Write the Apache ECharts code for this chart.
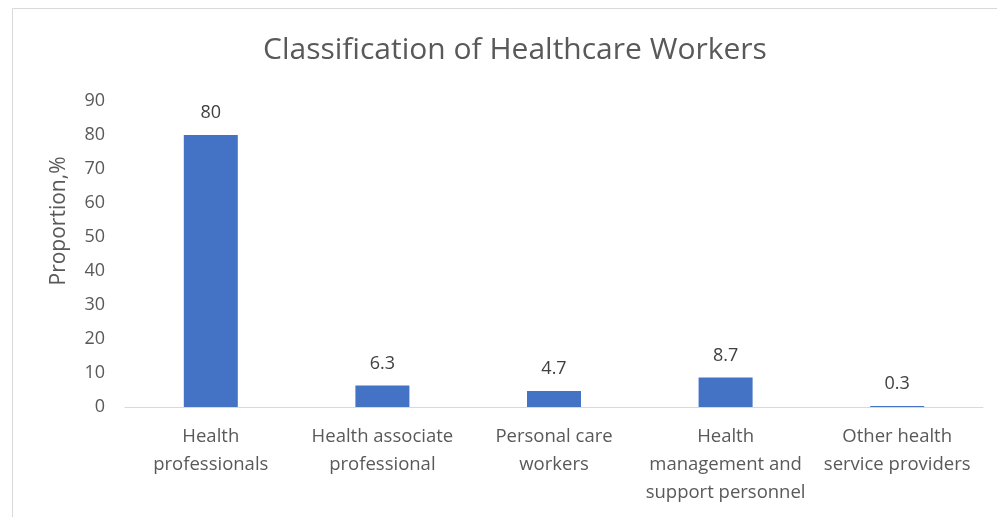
<!DOCTYPE html>
<html>
<head>
<meta charset="utf-8">
<title>Classification of Healthcare Workers</title>
<script src="https://cdn.jsdelivr.net/npm/echarts@6/dist/echarts.min.js"></script>
<style>
  html, body { margin: 0; padding: 0; background: #fff; }
  #chart { width: 997px; height: 517px; }
</style>
</head>
<body>
<div id="chart"></div>
<script>
// data
const categories = [
  'Health\nprofessionals',
  'Health associate\nprofessional',
  'Personal care\nworkers',
  'Health\nmanagement and\nsupport personnel',
  'Other health\nservice providers',
];
const proportions = [80, 6.3, 4.7, 8.7, 0.3];
const yTicks = { min: 0, max: 90, interval: 10 };

const textColor = '#595959';
const fontFamily = '"Open Sans", "Noto Sans", sans-serif';

const chart = echarts.init(document.getElementById('chart'));

const option = {
  backgroundColor: '#fff',
  textStyle: { fontFamily },
  title: {
    text: 'Classification of Healthcare Workers',
    left: 258,
    top: 30,
    textStyle: { fontSize: 30, fontWeight: 'normal', color: textColor, fontFamily },
  },
  graphic: [
    {
      type: 'rect',
      shape: { x: 12.5, y: 8.5, width: 1000, height: 520 },
      style: { fill: 'none', stroke: '#d9d9d9', lineWidth: 1 },
      silent: true,
    },
  ],
  grid: { left: 125, right: 14, top: 101, bottom: 110 },
  xAxis: {
    type: 'category',
    data: categories,
    axisLine: { lineStyle: { color: '#d9d9d9', width: 1 } },
    axisTick: { show: false },
    axisLabel: {
      interval: 0,
      color: textColor,
      fontSize: 18.5,
      lineHeight: 28,
      margin: 16,
      fontFamily,
    },
  },
  yAxis: {
    type: 'value',
    min: yTicks.min,
    max: yTicks.max,
    interval: yTicks.interval,
    name: 'Proportion,%',
    nameLocation: 'middle',
    nameGap: 55,
    nameTextStyle: { color: textColor, fontSize: 21, fontFamily, padding: [0, 0, 0, 66] },
    axisLine: { show: false },
    axisTick: { show: false },
    splitLine: { show: false },
    axisLabel: { color: textColor, fontSize: 18, margin: 20, fontFamily },
  },
  series: [
    {
      type: 'bar',
      data: proportions,
      barWidth: 54,
      itemStyle: { color: '#4472c4' },
      label: {
        show: true,
        position: 'top',
        distance: 13,
        color: '#404040',
        fontSize: 18,
        fontFamily,
      },
    },
  ],
};

chart.setOption(option);
</script>
</body>
</html>
